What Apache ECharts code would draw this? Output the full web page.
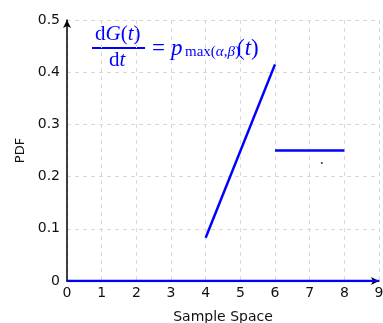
<!DOCTYPE html>
<html><head><meta charset="utf-8">
<script src="https://cdn.jsdelivr.net/npm/echarts@6/dist/echarts.min.js"></script>
<style>html,body{margin:0;padding:0;background:#fff}#c{width:383px;height:323px}</style>
</head><body><div id="c"></div>
<script>
const xTicks = [0,1,2,3,4,5,6,7,8,9];
const yTicks = [0,0.1,0.2,0.3,0.4,0.5];
const rampX = [4, 6];
const rampY = [0.083, 0.415];
const flatX = [6, 8];
const flatY = [0.25, 0.25];
const zeroX = [0, 9];
const zeroY = [0, 0];
const dotX = [7.35];
const dotY = [0.226];

const pair = (xs, ys) => xs.map((x, i) => [x, ys[i]]);
const chart = echarts.init(document.getElementById('c'));
const blue = '#0000ff';
const serif = 'Liberation Serif';
const gridLine = {show: true, lineStyle: {color: '#d9d9d9', type: [4, 4], width: 1}};
const up = (s, f) => ({text: s, fontFamily: serif, fontSize: f, fill: blue});
const it = (s, f) => ({text: s, fontFamily: serif, fontStyle: 'italic', fontSize: f, fill: blue});
chart.setOption({
  animation: false,
  grid: {left: 67, right: 4, top: 20, bottom: 42, containLabel: false, outerBoundsMode: 'none'},
  xAxis: {
    type: 'value', min: 0, max: 9, interval: 1,
    name: 'Sample Space', nameLocation: 'middle', nameGap: 29,
    nameTextStyle: {fontFamily: 'DejaVu Sans', fontSize: 14, color: '#111'},
    axisLine: {show: true, onZero: false, symbol: ['none', 'arrow'], symbolSize: [6, 8], lineStyle: {color: '#000', width: 1.5}},
    axisTick: {show: false},
    axisLabel: {fontFamily: 'DejaVu Sans', fontSize: 14, color: '#111', margin: 5, formatter: v => String(v)},
    splitLine: gridLine
  },
  yAxis: {
    type: 'value', min: 0, max: 0.5, interval: 0.1,
    name: 'PDF', nameLocation: 'middle', nameGap: 40, nameRotate: 90,
    nameTextStyle: {fontFamily: 'DejaVu Sans', fontSize: 13, color: '#111'},
    axisLine: {show: true, onZero: false, symbol: ['none', 'arrow'], symbolSize: [6, 8], lineStyle: {color: '#000', width: 1.5}},
    axisTick: {show: false},
    axisLabel: {fontFamily: 'DejaVu Sans', fontSize: 14, color: '#111', margin: 7, formatter: v => (v === 0 ? '0' : v.toFixed(1))},
    splitLine: gridLine
  },
  series: [
    {type: 'line', data: pair(zeroX, zeroY), symbol: 'none', lineStyle: {color: blue, width: 2.5}, z: 3},
    {type: 'line', data: pair(rampX, rampY), symbol: 'none', lineStyle: {color: blue, width: 2.5}},
    {type: 'line', data: pair(flatX, flatY), symbol: 'none', lineStyle: {color: blue, width: 2.5}},
    {type: 'scatter', data: pair(dotX, dotY), symbolSize: 2, itemStyle: {color: '#000'}}
  ],
  graphic: [
    {type: 'text', left: 95, top: 24, style: {
      text: '{u|d}{i|G}{u|(}{i|t}{u|)}',
      rich: {u: up('', 21), i: it('', 21)}
    }},
    {type: 'rect', shape: {x: 92, y: 47, width: 53, height: 2}, style: {fill: blue}},
    {type: 'text', left: 109, top: 50, style: {
      text: '{u|d}{i|t}',
      rich: {u: up('', 21), i: it('', 21)}
    }},
    {type: 'text', left: 152, top: 37, style: up('=', 23)},
    {type: 'text', left: 171, top: 37, style: it('p', 23)},
    {type: 'text', left: 185, top: 45, style: {
      text: '{u|max(}{i|α}{u|,}{i|β}{u|)}',
      rich: {u: up('', 15), i: it('', 15)}
    }},
    {type: 'text', left: 237, top: 37, style: {
      text: '{u|(}{i|t}{u|)}',
      rich: {u: up('', 23), i: it('', 23)}
    }}
  ]
});
</script></body></html>
